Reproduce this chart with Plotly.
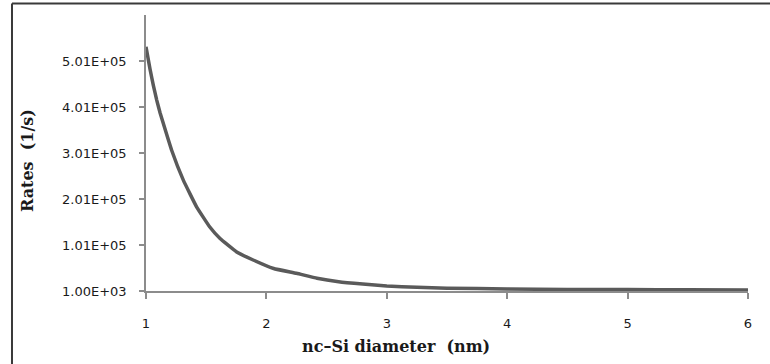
import plotly.graph_objects as go

# Data
diameter_nm = [1.0, 1.033, 1.061, 1.089, 1.116, 1.144, 1.213, 1.31, 1.42, 1.53, 1.615,
               1.75, 1.89, 2.06, 2.25, 2.42, 2.6, 2.8, 3.0, 3.25, 3.5, 4.0, 4.5, 5.0,
               5.5, 6.0]
rates = [532000, 484000, 448000, 416000, 389000, 365000, 307000, 242000, 184000,
         140000, 115000, 86500, 68400, 50000, 39500, 28600, 21000, 16000, 12000,
         9000, 7000, 5500, 4500, 4000, 3500, 3000]

y_tickvals = [1000, 101000, 201000, 301000, 401000, 501000]
y_ticktext = ["1.00E+03", "1.01E+05", "2.01E+05", "3.01E+05", "4.01E+05", "5.01E+05"]
x_tickvals = [1, 2, 3, 4, 5, 6]
x_ticktext = ["1", "2", "3", "4", "5", "6"]

fig = go.Figure()
fig.add_trace(go.Scatter(
    x=diameter_nm, y=rates, mode="lines",
    line=dict(color="#5a5a5a", width=3.5, shape="spline", smoothing=0.3),
    showlegend=False, cliponaxis=False,
))

axis_color = "#8c8c8c"
tick_font = dict(family="DejaVu Sans", size=13, color="#1a1a1a")

fig.update_layout(
    width=770, height=364,
    margin=dict(l=146, r=22, t=15, b=73),
    paper_bgcolor="white", plot_bgcolor="white",
    xaxis=dict(range=[1, 6], tickvals=x_tickvals, ticktext=x_ticktext,
               showgrid=False, zeroline=False, showline=True,
               linecolor=axis_color, linewidth=1.5,
               ticks="outside", ticklen=6, tickcolor=axis_color, tickwidth=1.5,
               tickfont=tick_font, ticklabelstandoff=14, fixedrange=True),
    yaxis=dict(range=[1000, 601000], tickvals=y_tickvals, ticktext=y_ticktext,
               showgrid=False, zeroline=False, showline=True,
               linecolor=axis_color, linewidth=1.5,
               ticks="outside", ticklen=5, tickcolor=axis_color, tickwidth=1.5,
               tickfont=tick_font, ticklabelstandoff=10, fixedrange=True),
    annotations=[
        dict(text="<b>nc\u2013Si diameter  (nm)</b>", xref="paper", yref="paper",
             x=0.4153, y=-0.1993, showarrow=False, xanchor="center", yanchor="middle",
             font=dict(family="DejaVu Serif", size=16, color="#1a1a1a")),
        dict(text="<b>Rates  (1/s)</b>", xref="paper", yref="paper",
             x=-0.1977, y=0.4746, showarrow=False, textangle=-90,
             xanchor="center", yanchor="middle",
             font=dict(family="DejaVu Serif", size=16, color="#1a1a1a")),
    ],
    shapes=[
        dict(type="line", xref="paper", yref="paper", x0=-0.2226, x1=-0.2226,
             y0=1.0417, y1=-0.3, line=dict(color="#3a3a3a", width=2)),
        dict(type="line", xref="paper", yref="paper", x0=-0.2226, x1=1.06,
             y0=1.0417, y1=1.0417, line=dict(color="#3a3a3a", width=2)),
    ],
)

fig.write_html("out.html")
